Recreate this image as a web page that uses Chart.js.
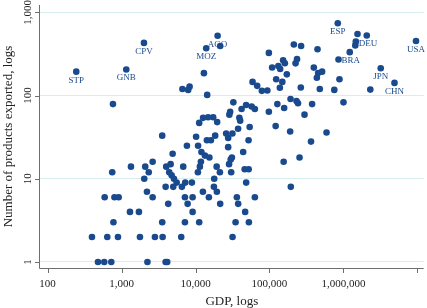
<!DOCTYPE html>
<html>
<head>
<meta charset="utf-8">
<script src="https://cdn.jsdelivr.net/npm/chart.js@4.4.1/dist/chart.umd.min.js"></script>
<style>
  html, body { margin: 0; padding: 0; background: #ffffff; }
  #wrap { width: 427px; height: 308px; }
</style>
</head>
<body>
<div id="wrap"><canvas id="c" width="427" height="308"></canvas></div>
<script>
// ---- DATA ----
const labeledCodes = ['STP','GNB','CPV','MOZ','AGO','ESP','DEU','BRA','USA','JPN','CHN'];
const labeledGdp = [244, 1158, 2009, 13960, 19910, 839500, 1472000, 859000, 9594000, 3199000, 4909000];
const labeledProducts = [194, 206, 430, 371, 525, 741, 445, 271, 454, 213, 142];

const otherGdp = [
  765, 21570, 13000, 6653, 7962, 8318, 14390, 98170, 108700, 131900,
  139600, 153100, 161500, 171800, 123300, 149300, 138300, 59120, 68190, 78890,
  93690, 32510, 41980, 48300, 57410, 63510, 29440, 28710, 39180, 40180,
  98170, 127900, 158100, 192800, 12670, 14790, 17340, 11220, 19630, 3548,
  10190, 18450, 14260, 16140, 26000, 27670, 31550, 37670, 53990, 52190,
  121300, 190500, 7656, 10840, 27670, 1552000, 2070000, 1449000, 1219000, 2312000,
  213800, 268000, 446700, 236000, 225400, 398100, 455000, 515200, 437500, 885100,
  265500, 479700, 753400, 232300, 243200, 377600, 1003000, 297900, 591600, 364800,
  155600, 255300, 194500, 4906, 12020, 13400, 15420, 11830, 11460, 10770,
  31050, 29920, 44130, 2632, 1340, 2091, 2332, 2027, 4018, 4609,
  4411, 6823, 19320, 21370, 28440, 30360, 46240, 52360, 4753, 5108,
  5559, 3945, 5000, 6548, 7261, 8933, 17910, 17740, 19450, 12590,
  15170, 21570, 48420, 36240, 37760, 63510, 46940, 34830, 52720, 31700,
  2205, 2632, 7194, 9138, 7822, 4276, 9138, 1299, 1718, 3548,
  7194, 11220, 1773, 2827, 3593, 6410, 2239, 3945, 4146, 748,
  591, 802, 914, 777, 398, 641, 894, 480, 584, 726
];
const otherProducts = [
  79, 395, 186, 120, 117, 128, 102, 326, 218, 227,
  209, 266, 245, 180, 157, 146, 124, 146, 131, 114,
  115, 83, 69, 77, 74, 69, 64, 59, 54, 50,
  64, 79, 71, 91, 54, 55, 55, 47, 48, 33,
  32, 33, 29, 29, 35, 31, 35, 40, 42, 29,
  43, 37, 25, 25, 24, 551, 527, 401, 333, 118,
  412, 395, 361, 274, 244, 217, 187, 194, 164, 157,
  125, 120, 117, 86, 81, 79, 83, 59, 36, 28,
  16, 18, 8, 20, 21, 19, 18, 16, 14, 12,
  18, 17, 21, 16, 14, 14, 12, 10, 14, 15,
  12, 14, 14, 12, 15, 12, 13, 13, 11, 10,
  9, 8, 8, 8, 9, 9, 10, 8, 7, 7,
  6, 5, 9, 6, 5, 6, 4, 3, 3, 2,
  7, 6, 6, 6, 5, 5, 4, 4, 4, 3,
  3, 3, 2, 2, 2, 2, 1, 1, 1, 12,
  6, 6, 6, 3, 2, 2, 2, 1, 1, 1
];

const xTickValues = [100, 1000, 10000, 100000, 1000000, 10000000];
const xTickLabels = ['100', '1,000', '10,000', '100,000', '1,000,000', ''];
const yTickValues = [1, 10, 100, 1000];
const yTickLabels = ['1', '10', '100', '1,000'];
const xTitle = 'GDP, logs';
const yTitle = 'Number of products exported, logs';

// ---- build library structures ----
const allGdp = labeledGdp.concat(otherGdp);
const allProducts = labeledProducts.concat(otherProducts);
const allCodes = labeledCodes.concat(otherGdp.map(() => ''));
const points = allGdp.map((g, i) => ({ x: g, y: allProducts[i] }));

const NAVY = '#1a4a8e';
const SERIF = '"Liberation Serif", "Times New Roman", serif';
const rightSide = { DEU: [3, 2], BRA: [3, 1] };

const decor = {
  id: 'decor',
  afterDatasetsDraw(chart) {
    const ctx = chart.ctx;
    const a = chart.chartArea;
    const xs = chart.scales.x, ys = chart.scales.y;
    ctx.save();
    // axis lines
    ctx.strokeStyle = '#6e6e6e';
    ctx.lineWidth = 1;
    ctx.beginPath();
    ctx.moveTo(a.left - 0.5, a.top);
    ctx.lineTo(a.left - 0.5, a.bottom + 0.5);
    ctx.lineTo(a.right, a.bottom + 0.5);
    ctx.stroke();
    // ticks
    ctx.beginPath();
    yTickValues.forEach(v => {
      const y = Math.round(ys.getPixelForValue(v)) + 0.5;
      ctx.moveTo(a.left - 5, y); ctx.lineTo(a.left, y);
    });
    xTickValues.forEach(v => {
      const x = Math.round(xs.getPixelForValue(v)) + 0.5;
      if (x > a.right) return;
      ctx.moveTo(x, a.bottom); ctx.lineTo(x, a.bottom + 5);
    });
    ctx.stroke();
    // tick labels
    ctx.fillStyle = '#222';
    ctx.font = '11px ' + SERIF;
    ctx.textAlign = 'center';
    ctx.textBaseline = 'alphabetic';
    xTickValues.forEach((v, i) => {
      const x = xs.getPixelForValue(v);
      if (xTickLabels[i]) ctx.fillText(xTickLabels[i], x, a.bottom + 18.5);
    });
    yTickValues.forEach((v, i) => {
      const y = ys.getPixelForValue(v);
      ctx.save();
      ctx.translate(a.left - 9, y);
      ctx.rotate(-Math.PI / 2);
      ctx.fillText(yTickLabels[i], 0, 0);
      ctx.restore();
    });
    // titles
    ctx.font = '13px ' + SERIF;
    ctx.fillText(xTitle, (a.left + a.right) / 2, 305);
    ctx.save();
    ctx.translate(12, (a.top + a.bottom) / 2);
    ctx.rotate(-Math.PI / 2);
    ctx.fillText(yTitle, 0, 0);
    ctx.restore();
    // point labels
    const meta = chart.getDatasetMeta(0);
    ctx.font = '9px ' + SERIF;
    ctx.fillStyle = NAVY;
    ctx.textBaseline = 'middle';
    allCodes.forEach((code, i) => {
      if (!code) return;
      const el = meta.data[i];
      if (rightSide[code]) {
        ctx.textAlign = 'left';
        ctx.fillText(code, el.x + rightSide[code][0], el.y + rightSide[code][1]);
      } else {
        ctx.textAlign = 'center';
        ctx.fillText(code, el.x, el.y + 8.5);
      }
    });
    ctx.restore();
  }
};

new Chart(document.getElementById('c'), {
  type: 'scatter',
  data: {
    datasets: [{
      data: points,
      backgroundColor: NAVY,
      borderWidth: 0,
      pointRadius: 3.3,
      pointHoverRadius: 3.3
    }]
  },
  options: {
    responsive: false,
    animation: false,
    events: [],
    layout: { padding: { left: 40, top: 5, right: 3, bottom: 40 } },
    plugins: { legend: { display: false }, tooltip: { enabled: false } },
    scales: {
      x: {
        type: 'logarithmic',
        min: 78.9, max: 12190000,
        afterBuildTicks: s => { s.ticks = xTickValues.map(v => ({ value: v })); },
        afterFit: s => { s.height = 0; },
        ticks: { display: false },
        grid: { display: false, drawTicks: false },
        border: { display: false }
      },
      y: {
        type: 'logarithmic',
        min: 0.847, max: 1227,
        afterBuildTicks: s => { s.ticks = yTickValues.map(v => ({ value: v })); },
        afterFit: s => { s.width = 0; },
        ticks: { display: false },
        grid: { display: true, drawTicks: false, color: '#d6eeee', lineWidth: 1 },
        border: { display: false }
      }
    }
  },
  plugins: [decor]
});
</script>
</body>
</html>
